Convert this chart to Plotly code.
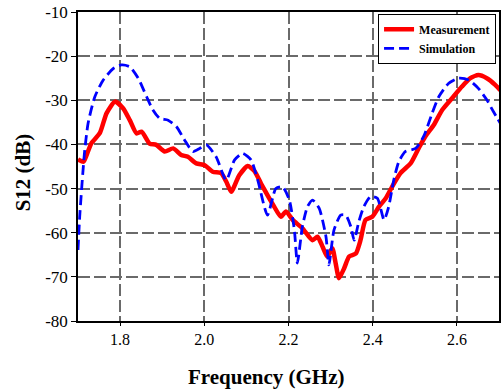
import plotly.graph_objects as go

meas_f = [1.700, 1.713, 1.722, 1.732, 1.752, 1.768, 1.788, 1.807, 1.823, 1.839, 1.851, 1.870,
          1.886, 1.906, 1.926, 1.945, 1.961, 1.981, 2.001, 2.020, 2.040, 2.052, 2.064, 2.083,
          2.103, 2.119, 2.135, 2.150, 2.166, 2.182, 2.194, 2.210, 2.233, 2.257, 2.269, 2.281,
          2.292, 2.304, 2.312, 2.320, 2.332, 2.344, 2.360, 2.371, 2.383, 2.399, 2.415, 2.431,
          2.446, 2.466, 2.490, 2.509, 2.525, 2.545, 2.565, 2.588, 2.612, 2.632, 2.651, 2.671,
          2.691, 2.703]
meas_db = [-43.4, -43.9, -42.0, -39.7, -37.4, -32.9, -30.3, -31.8, -34.5, -37.5, -37.1, -39.8,
           -40.1, -41.6, -40.9, -42.4, -42.8, -44.3, -44.7, -46.2, -46.5, -48.4, -50.7, -47.0,
           -44.9, -46.0, -48.9, -51.5, -54.1, -56.4, -55.2, -57.1, -59.0, -61.7, -60.9, -63.2,
           -65.4, -63.5, -66.9, -70.3, -68.1, -65.4, -64.7, -61.7, -57.1, -56.4, -54.1, -52.2,
           -49.6, -46.5, -44.3, -40.9, -38.2, -35.6, -32.2, -29.6, -26.9, -25.0, -24.3, -25.0,
           -26.5, -27.7]

sim_f = [1.700, 1.704, 1.712, 1.716, 1.724, 1.740, 1.760, 1.784, 1.803, 1.823, 1.843, 1.863,
         1.878, 1.894, 1.914, 1.934, 1.953, 1.973, 1.989, 2.005, 2.028, 2.052, 2.072, 2.091,
         2.111, 2.127, 2.150, 2.170, 2.186, 2.202, 2.214, 2.221, 2.233, 2.245, 2.257, 2.273,
         2.289, 2.296, 2.308, 2.324, 2.336, 2.348, 2.356, 2.367, 2.379, 2.395, 2.411, 2.427,
         2.438, 2.450, 2.462, 2.478, 2.502, 2.521, 2.541, 2.557, 2.580, 2.604, 2.628, 2.651,
         2.671, 2.687, 2.703]
sim_db = [-63.9, -56.4, -45.8, -41.3, -35.2, -29.2, -25.4, -22.8, -22.0, -22.4, -25.0, -29.2,
          -32.2, -34.1, -34.5, -36.0, -39.0, -41.6, -40.9, -40.1, -42.8, -48.1, -43.5, -42.0,
          -43.5, -48.1, -56.0, -50.0, -49.6, -52.6, -59.4, -66.9, -58.6, -54.1, -52.6, -54.5,
          -60.9, -67.3, -59.4, -56.0, -56.0, -58.6, -61.7, -57.5, -54.1, -51.8, -52.2, -57.1,
          -54.1, -48.1, -43.9, -41.6, -40.9, -38.2, -33.0, -29.2, -26.2, -25.0, -25.4, -27.3,
          -29.9, -32.6, -35.2]

x_ticks = [1.8, 2.0, 2.2, 2.4, 2.6]
x_ticktext = ["1.8", "2.0", "2.2", "2.4", "2.6"]
y_ticks = [-80, -70, -60, -50, -40, -30, -20, -10]
y_ticktext = ["-80", "-70", "-60", "-50", "-40", "-30", "-20", "-10"]
x_title = "Frequency (GHz)"
y_title = "S12 (dB)"

FONT = "Liberation Serif"

fig = go.Figure()
fig.add_trace(go.Scatter(x=meas_f, y=meas_db, mode="lines", name="Measurement",
                         line=dict(color="#FF0000", width=4.5, shape="spline", smoothing=0.6)))
fig.add_trace(go.Scatter(x=sim_f, y=sim_db, mode="lines", name="Simulation",
                         line=dict(color="#0000FF", width=2.8, dash="10px,5px",
                                   shape="spline", smoothing=0.6)))

fig.update_layout(
    width=503, height=392,
    margin=dict(l=78, r=2, t=12, b=71),
    paper_bgcolor="white", plot_bgcolor="white",
    font=dict(family=FONT, size=17, color="black"),
    showlegend=True,
    legend=dict(x=0.993, y=0.994, xanchor="right", yanchor="top",
                bgcolor="white", bordercolor="black", borderwidth=1,
                font=dict(family=FONT, size=12, color="black", weight="bold"),
                tracegroupgap=0, itemwidth=30),
    annotations=[
        dict(text="<b>" + x_title + "</b>", xref="paper", yref="paper",
             x=0.447, y=-0.180, xanchor="center", yanchor="middle", showarrow=False,
             font=dict(family=FONT, size=21, color="black")),
        dict(text="<b>" + y_title + "</b>", xref="paper", yref="paper",
             x=-0.130, y=0.482, xanchor="center", yanchor="middle", showarrow=False,
             textangle=-90, font=dict(family=FONT, size=21, color="black")),
    ],
)
fig.update_xaxes(
    range=[1.7, 2.7], tickvals=x_ticks, ticktext=x_ticktext,
    tickfont=dict(size=16),
    showline=True, linecolor="black", linewidth=1.5, mirror=True,
    showgrid=True, gridcolor="#6a6a6a", gridwidth=1.5, griddash="12px,4px",
    ticks="outside", ticklen=3, tickcolor="black",
    zeroline=False,
)
fig.update_yaxes(
    range=[-80, -10], tickvals=y_ticks, ticktext=y_ticktext,
    tickfont=dict(size=17),
    showline=True, linecolor="black", linewidth=1.5, mirror=True,
    showgrid=True, gridcolor="#6a6a6a", gridwidth=1.5, griddash="12px,4px",
    ticks="outside", ticklen=5, tickcolor="black",
    zeroline=False,
)

fig.write_html("out.html")
